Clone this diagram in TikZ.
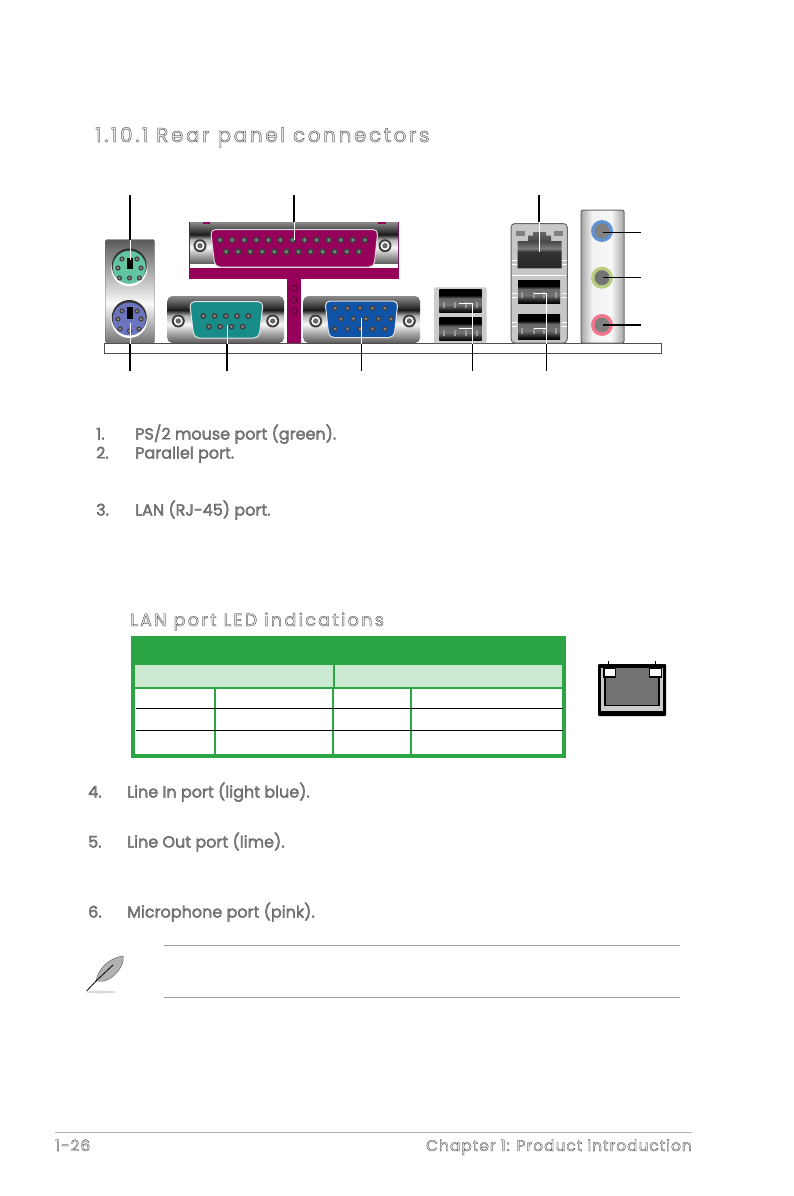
\documentclass[tikz,border=0pt]{standalone}
\usepackage{fontspec}
\setmainfont{Poppins}
\newfontfamily\bodyfont[FakeBold=1.4]{Poppins}
\newfontfamily\headfont[FakeBold=1.2,LetterSpace=13]{Poppins}
\newfontfamily\footfont[FakeBold=1.2,LetterSpace=6]{Poppins}
\usetikzlibrary{calc}
\definecolor{lanGreen}{RGB}{44,165,68}
\definecolor{lanPale}{RGB}{203,232,208}
\definecolor{parMagenta}{RGB}{150,0,90}
\definecolor{mouseMint}{RGB}{98,196,160}
\definecolor{kbdBlue}{RGB}{108,116,190}
\definecolor{serTeal}{RGB}{24,140,136}
\definecolor{vgaBlue}{RGB}{16,84,170}
\pgfdeclareverticalshading{plate}{100bp}{color(0bp)=(black!65);color(25bp)=(black!65);color(35bp)=(black!35);color(45bp)=(black!3);color(54bp)=(black!30);color(60bp)=(black!90);color(68bp)=(black!65);color(75bp)=(black!45);color(100bp)=(black!45)}
\pgfdeclareverticalshading{panel}{100bp}{color(0bp)=(black!55);color(25bp)=(black!55);color(44bp)=(black!2);color(75bp)=(black!65);color(100bp)=(black!65)}
\pgfdeclareverticalshading{usbwell}{100bp}{color(0bp)=(black);color(25bp)=(black);color(32bp)=(black!85);color(42bp)=(black!55);color(56bp)=(black!60);color(62bp)=(black);color(75bp)=(black);color(100bp)=(black)}
\pgfdeclareverticalshading{lanwell}{100bp}{color(0bp)=(black!85);color(25bp)=(black!85);color(48bp)=(black!80);color(52bp)=(black!50);color(62bp)=(black!72);color(75bp)=(black!60);color(100bp)=(black!60)}
\pgfdeclarehorizontalshading{audiopanel}{100bp}{color(0bp)=(black!35);color(25bp)=(black!35);color(38bp)=(black!5);color(60bp)=(black!3);color(75bp)=(black!35);color(100bp)=(black!35)}
% outlined print, as on the scanned page
\newcommand{\outl}[2][0.5]{\special{pdf:bcolor [#1] [0.25]}#2\special{pdf:ecolor}}
\newcommand{\outh}[1]{\special{pdf:bcolor [0.9] [0.05]}#1\special{pdf:ecolor}}
\newcommand{\screw}[2]{\fill[black!75] (#1,#2) circle (6.5);\fill[white] (#1,#2) circle (4.5);\fill[black!60] (#1,#2) circle (2.7);}
\newcommand{\dpin}[3]{\fill[black!75] (#1,#2) circle (#3);\fill[white,opacity=.4] (#1,#2) circle (#3*0.5);}
\newcommand{\usbport}[4]{\shade[shading=usbwell] (#1,#2) rectangle (#3,#4);
  \foreach \ln in {0.1,0.37,0.63,0.9}{\fill[black!40] ($(#1,#4)!\ln!(#3,#4)+(-1,-11)$) rectangle ++(2,6);}}
\tikzset{
  lead/.style={line width=1.4pt,black},
  whitelead/.style={line width=1pt,white},
  itemtext/.style={anchor=base west,inner sep=0pt,font=\bodyfont\fontsize{16}{16}\selectfont},
  headtext/.style={anchor=base west,inner sep=0pt,font=\headfont\fontsize{20}{20}\selectfont},
  subhead/.style={anchor=base west,inner sep=0pt,font=\headfont\fontsize{17.6}{18}\selectfont},
  foottext/.style={inner sep=0pt,font=\footfont\fontsize{15.5}{16}\selectfont},
  greenline/.style={lanGreen,line width=1.4pt},
  rowline/.style={black,line width=.8pt},
  noteline/.style={black!38,line width=1pt},
}
\begin{document}
\begin{tikzpicture}[x=1pt,y=-1pt]
\useasboundingbox (0,0) rectangle (794,1196);
\fill[white] (0,0) rectangle (794,1196);
% heading
\node[headtext] (secHead) at (95,142) {\outh{1.10.1 Rear panel connectors}};
% base strip
\draw[black!70,line width=.8pt] (104.5,343.5) rectangle (661.5,353.5);
% PS/2 panel
\draw[black!60,shading=panel,rounded corners=2pt] (105.5,239.5) rectangle (154.5,343);
\foreach \cy/\cc in {267.3/mouseMint,319/kbdBlue}{
  \fill[white] (129.3,\cy+1) circle (18);
  \fill[black!80] (129.3,\cy-1.5) circle (17.5);
  \fill[\cc] (129.3,\cy) circle (16.5);
}
\foreach \px/\py in {118/268,141/268,119.5/278,139.5/278,129.5/278,122/259,137/259}{\dpin{\px}{\py}{2.6}}
\foreach \px/\py in {118/319,141/319,120/329,139/329,129.5/331,122/311,137/311}{\dpin{\px}{\py}{2.6}}
\fill[black] (126.5,258) rectangle (132.5,268.5);
\fill[black] (126.5,307) rectangle (132.5,319);
% parallel port
\fill[parMagenta] (189,221.7) rectangle (399,279.3);
\fill[parMagenta] (286.7,279) rectangle (301,343);
\shade[shading=plate] (190,222) rectangle (398,264);
\fill[parMagenta] (203,221.7) rectangle (210,224);
\fill[parMagenta] (378,221.7) rectangle (386,224);
\fill[white] (190,264) rectangle (398,268);
\draw[black!15,fill=parMagenta,line width=1pt,rounded corners=5pt] (210.5,229.5) -- (378,229.5) -- (374,267) -- (215,267) -- cycle;
\screw{200}{245.7}
\screw{385}{245.7}
\foreach \n in {0,...,12}{\dpin{220+\n*12.08}{240}{3.4}}
\foreach \n in {0,...,11}{\dpin{226+\n*12.08}{251.7}{3.4}}
\foreach \cy in {288.3,300,311}{\draw[black!55!parMagenta,line width=.6pt] (294,\cy) circle (3.2);}
% serial port
\shade[shading=plate,rounded corners=5pt] (167.3,296) rectangle (284,343);
\draw[black!10,fill=serTeal,line width=1pt,rounded corners=5pt] (189.5,301.7) -- (263.3,301.7) -- (259,338) -- (194,338) -- cycle;
\screw{178.3}{321}
\screw{272.7}{321}
\foreach \n in {0,...,4}{\dpin{203.3+\n*11.25}{316}{3}}
\foreach \n in {0,...,3}{\dpin{209+\n*11.25}{326.7}{3}}
% VGA port
\shade[shading=plate,rounded corners=5pt] (303.3,296) rectangle (420,343);
\draw[black!10,fill=vgaBlue,line width=1pt,rounded corners=5pt] (325,301) -- (398,301) -- (394,337.5) -- (329,337.5) -- cycle;
\screw{315.7}{321}
\screw{409.3}{321}
\foreach \n in {0,...,4}{\dpin{335+\n*12.5}{308.3}{2.8}\dpin{335+\n*12.5}{329}{2.8}\dpin{341+\n*12.5}{318.7}{2.8}}
% USB stack
\fill[black!20,rounded corners=1pt] (434,287.3) rectangle (486.7,343);
\usbport{439.3}{289.3}{481.7}{312.7}
\usbport{439.3}{317.3}{481.7}{340.7}
% LAN and USB stack
\draw[black!60,line width=1pt,fill=black!22,rounded corners=4pt] (511,223.5) rectangle (567.3,343);
\fill[black!50] (516,231) rectangle (525,236);
\fill[black!50] (554,231) rectangle (563,236);
\shade[shading=lanwell] (517.5,268.3) -- (517.5,241) -- (528,241) -- (528,235.5) -- (533,235.5) -- (533,232) -- (546,232) -- (546,235.5) -- (551,235.5) -- (551,241) -- (561.5,241) -- (561.5,268.3) -- cycle;
\usbport{518}{280}{560}{303.3}
\usbport{518}{314.3}{560}{339.3}
\foreach \my in {260,264,293,297,322,326}{
  \draw[white,line width=.8pt] (511.5,\my) -- (517,\my);
  \draw[white,line width=.8pt] (561.5,\my) -- (567,\my);
}
\draw[white,line width=.8pt] (512,275) -- (566,275);
% audio panel
\draw[black!60,line width=1pt,shading=audiopanel,rounded corners=2pt] (581,210) rectangle (624,343);
\foreach \jy/\jc/\ji in {231/cyan!50!blue!65/black!50,277.7/lime!60!black!50/black!55,325/magenta!45!red!55/black!50}{
  \fill[\jc] (602,\jy) circle (11);
  \fill[\ji] (602,\jy) circle (7.5);
}
% leader ends
\coordinate (mouseTop) at (130,195);
\coordinate (mouseIn) at (130,240);
\coordinate (mouseEnd) at (130,260);
\coordinate (parTop) at (294,195);
\coordinate (parIn) at (294,222);
\coordinate (parEnd) at (294,240);
\coordinate (lanTop) at (539,195);
\coordinate (lanIn) at (539,222);
\coordinate (lanEnd) at (539,252);
\coordinate (lineInPort) at (603,232.7);
\coordinate (lineInEnd) at (641,232.7);
\coordinate (lineOutPort) at (603,277.7);
\coordinate (lineOutEnd) at (641,277.7);
\coordinate (micPort) at (603,325);
\coordinate (micEnd) at (641,325);
\coordinate (kbdEnd) at (130,371);
\coordinate (kbdIn) at (130,343.5);
\coordinate (kbdPort) at (130,323);
\coordinate (serEnd) at (227,371);
\coordinate (serIn) at (227,343.5);
\coordinate (serPort) at (227,325);
\coordinate (vgaEnd) at (361.5,371);
\coordinate (vgaIn) at (361.5,343.5);
\coordinate (vgaPort) at (361.5,318);
\coordinate (usbEnd) at (472.7,371);
\coordinate (usbIn) at (472.7,343.5);
\coordinate (usbUp) at (472.7,303);
\coordinate (usbUpL) at (459,303);
\coordinate (usbLow) at (472.7,328);
\coordinate (usbLowL) at (459,328);
\coordinate (usb2End) at (546.7,371);
\coordinate (usb2In) at (546.7,343.5);
\coordinate (usb2Up) at (546.7,293);
\coordinate (usb2UpL) at (534,293);
\coordinate (usb2Low) at (546.7,328);
\coordinate (usb2LowL) at (534,328);
% leaders
\draw[whitelead] (mouseIn) -- (mouseEnd);
\draw[whitelead] (parIn) -- (parEnd);
\draw[whitelead] (lanIn) -- (lanEnd);
\draw[whitelead] (kbdIn) -- (kbdPort);
\draw[whitelead] (serIn) -- (serPort);
\draw[whitelead] (vgaIn) -- (vgaPort);
\draw[whitelead] (usbIn) -- (usbUp) -- (usbUpL);
\draw[whitelead] (usbLow) -- (usbLowL);
\draw[whitelead] (usb2In) -- (usb2Up) -- (usb2UpL);
\draw[whitelead] (usb2Low) -- (usb2LowL);
\draw[lead] (mouseTop) -- (mouseIn);
\draw[lead] (parTop) -- (parIn);
\draw[lead] (lanTop) -- (lanIn);
\draw[lead] (lineInPort) -- (lineInEnd);
\draw[lead] (lineOutPort) -- (lineOutEnd);
\draw[lead] (micPort) -- (micEnd);
\draw[lead] (kbdEnd) -- (kbdIn);
\draw[lead] (serEnd) -- (serIn);
\draw[lead] (vgaEnd) -- (vgaIn);
\draw[lead] (usbEnd) -- (usbIn);
\draw[lead] (usb2End) -- (usb2In);
% port list
\node[itemtext] (numA) at (96,439.5) {\outl{1.}};
\node[itemtext] (itemA) at (135,439.5) {\outl{PS/2 mouse port (green).}};
\node[itemtext] (numB) at (96,458.5) {\outl{2.}};
\node[itemtext] (itemB) at (135,458.5) {\outl{Parallel port.}};
\node[itemtext] (numC) at (96,515.5) {\outl{3.}};
\node[itemtext] (itemC) at (135,515.5) {\outl{LAN (RJ-45) port.}};
% LED table
\node[subhead] (ledHead) at (130,626) {\outh{LAN port LED indications}};
\fill[lanGreen] (130.5,636) rectangle (566,757.7);
\fill[lanPale] (135,665) rectangle (333,687);
\fill[lanPale] (334.5,665) rectangle (561.5,687);
\fill[white] (135,689) rectangle (562,754);
\foreach \vx in {215,333,411}{\draw[greenline] (\vx,687) -- (\vx,754);}
\foreach \ry in {708.3,730.3}{\draw[rowline] (136,\ry) -- (563,\ry);}
% LED icon
\fill[black,rounded corners=1pt] (598,664) rectangle (666,716);
\fill[black!20] (601,668) rectangle (663,711);
\fill[black] (604,668) rectangle (659.5,706);
\fill[black!55] (605.5,668) rectangle (658,704.5);
\fill[white,draw=black,line width=1.2pt] (604,668) rectangle (615.5,677);
\fill[white,draw=black,line width=1.2pt] (649.5,668) rectangle (661.5,677);
\draw[black,line width=1pt] (608.5,661) -- (608.5,668);
\draw[black,line width=1pt] (655,661) -- (655,668);
% port list continued
\node[itemtext] (numD) at (88,797.5) {\outl{4.}};
\node[itemtext] (itemD) at (127,797.5) {\outl{Line In port (light blue).}};
\node[itemtext] (numE) at (88,847.5) {\outl{5.}};
\node[itemtext] (itemE) at (127,847.5) {\outl{Line Out port (lime).}};
\node[itemtext] (numF) at (88,917.5) {\outl{6.}};
\node[itemtext] (itemF) at (127,917.5) {\outl{Microphone port (pink).}};
% note box
\draw[noteline] (164,945.5) -- (680,945.5);
\draw[noteline] (164,997) -- (680,997);
\fill[black!15] (101,992) ellipse (15 and 1.3);
\draw[black!60,fill=black!30,line width=.5pt] (96,981) .. controls (98,970) and (108,958) .. (123,956) .. controls (125,965) and (115,978) .. (104,981) -- cycle;
\draw[black,line width=.8pt] (86.7,991) -- (96,981) -- (113,965);
% footer
\draw[black!30,line width=1pt] (55,1132) -- (692,1132);
\node[foottext,anchor=base west] (pageNo) at (55,1151) {\outh{1-26}};
\node[foottext,anchor=base east] (chapName) at (692,1151) {\outh{Chapter 1: Product introduction}};
\end{tikzpicture}
\end{document}
